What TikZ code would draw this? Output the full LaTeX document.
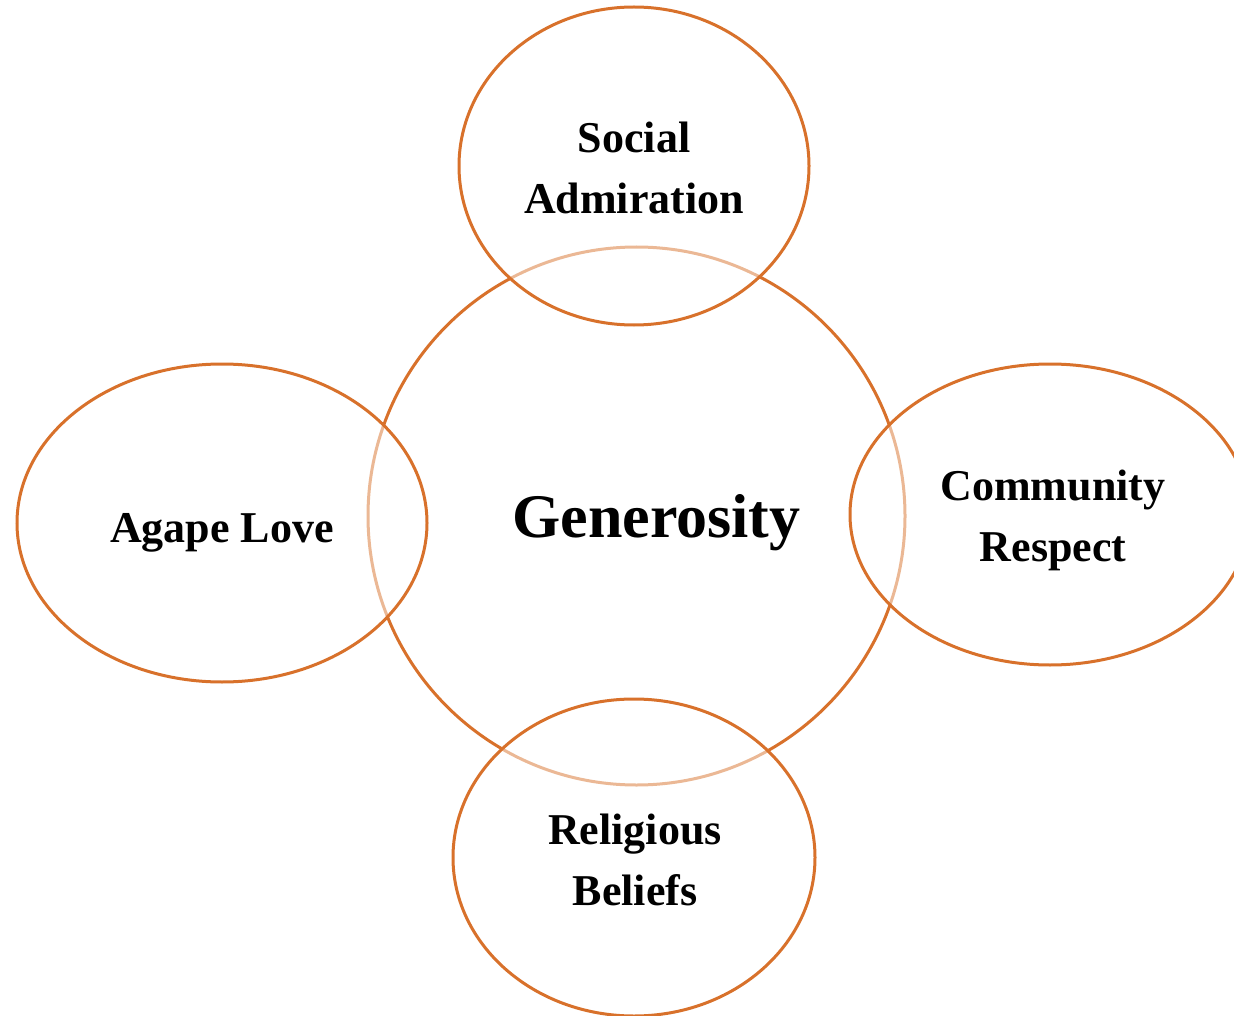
\documentclass[tikz,border=0pt]{standalone}
\usepackage{fontspec}
\setmainfont{Liberation Serif}
\begin{document}
\begin{tikzpicture}[x=1pt,y=-1pt,
  ringline/.style={draw=ringorange,line width=3pt},
  hub/.style={ringline},
  petal/.style={ringline,fill=white,fill opacity=0.5},
  smalltxt/.style={font=\bfseries\fontsize{44}{61}\selectfont,align=center,inner sep=0pt,text opacity=1},
  bigtxt/.style={font=\bfseries\fontsize{62}{70}\selectfont,inner sep=0pt}]
\definecolor{ringorange}{RGB}{216,113,43}
\useasboundingbox (0,0) rectangle (1234,1016);
\begin{scope}
\clip (0,0) rectangle (1234,1016);
% central circle
\draw[hub] (636.5,516) ellipse [x radius=268.5,y radius=269];
% surrounding ellipses, half-transparent white fill
\draw[petal] (634,166) ellipse [x radius=175,y radius=159];
\draw[petal] (222,523) ellipse [x radius=205,y radius=159];
\draw[petal] (1050,514.5) ellipse [x radius=200,y radius=150.5];
\draw[petal] (634,857.5) ellipse [x radius=181,y radius=158.5];
\end{scope}
% labels
\node[bigtxt,anchor=base] (gen) at (656.5,537) {Generosity};
\node[smalltxt] (soc) at (634,167.5) {Social\\Admiration};
\node[smalltxt,anchor=base] (aga) at (222,542) {Agape Love};
\node[smalltxt] (com) at (1053,520) {Community\\Respect};
\node[smalltxt] (rel) at (635,859.5) {Religious\\Beliefs};
\end{tikzpicture}
\end{document}
